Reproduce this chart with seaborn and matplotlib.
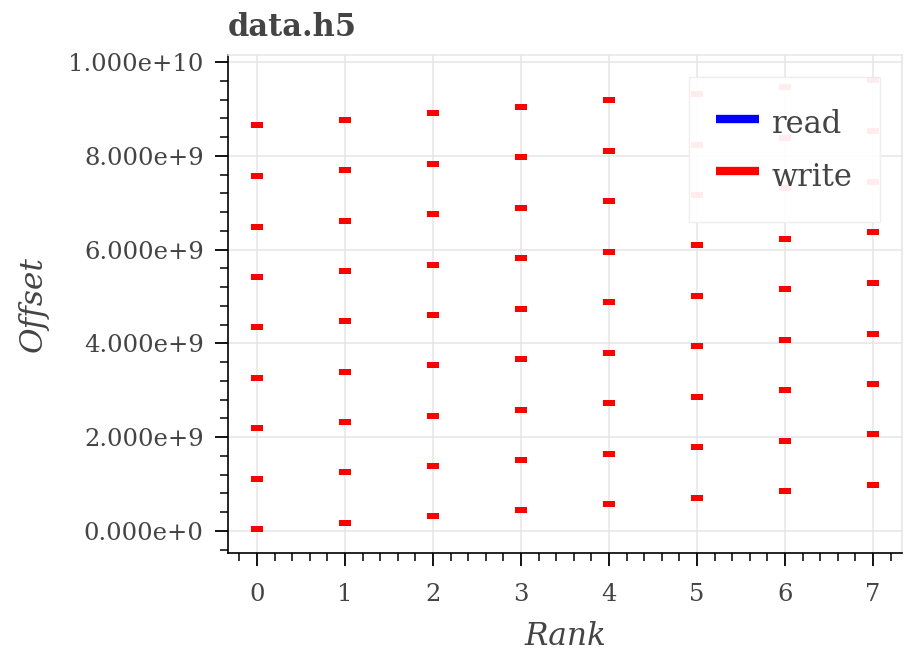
import numpy as np
import pandas as pd
import matplotlib
matplotlib.use('Agg')
import matplotlib.pyplot as plt
from matplotlib.path import Path
from matplotlib.lines import Line2D
from matplotlib.ticker import MultipleLocator, FuncFormatter
import seaborn as sns

# -------------------- data (offsets, in units of 1e9) --------------------
ranks = [0, 1, 2, 3, 4, 5, 6, 7]
rank0 = [0.04, 1.11, 2.19, 3.26, 4.34, 5.41, 6.49, 7.56, 8.65]
rank1 = [0.17, 1.25, 2.32, 3.40, 4.47, 5.55, 6.62, 7.70, 8.77]
rank2 = [0.31, 1.38, 2.46, 3.53, 4.61, 5.68, 6.76, 7.83, 8.91]
rank3 = [0.44, 1.52, 2.59, 3.67, 4.74, 5.82, 6.89, 7.97, 9.04]
rank4 = [0.57, 1.65, 2.73, 3.80, 4.88, 5.95, 7.03, 8.11, 9.19]
rank5 = [0.71, 1.78, 2.86, 3.94, 5.01, 6.09, 7.16, 8.24, 9.32]
rank6 = [0.85, 1.92, 3.00, 4.08, 5.15, 6.23, 7.31, 8.39, 9.47]
rank7 = [0.98, 2.06, 3.14, 4.21, 5.29, 6.37, 7.44, 8.52, 9.62]
offsets_by_rank = [rank0, rank1, rank2, rank3, rank4, rank5, rank6, rank7]
operations = ['read', 'write']
op_colors = {'read': '#0000ff', 'write': '#ff0000'}

rows = []
for op in operations:
    for r, offs in zip(ranks, offsets_by_rank):
        for v in offs:
            rows.append({'op': op, 'Rank': r, 'Offset': v * 1e9})
df = pd.DataFrame(rows)

# -------------------- style --------------------
sns.set_theme(style='white')
plt.rcParams['font.family'] = ['DejaVu Serif']
text_color = '#444444'
grid_color = '#e5e5e5'

fig = plt.figure(figsize=(9.09, 6.52), dpi=100)
ax = fig.add_axes([228 / 909, 1 - 553 / 652, (902 - 228) / 909, (553 - 55) / 652])

# short horizontal bar marker
bar_marker = Path([(-1, -0.47), (1, -0.47), (1, 0.47), (-1, 0.47), (-1, -0.47)],
                  [Path.MOVETO, Path.LINETO, Path.LINETO, Path.LINETO, Path.CLOSEPOLY])

# reads sit under the writes, only a thin fringe shows
sns.scatterplot(data=df[df['op'] == 'read'], x='Rank', y='Offset', color='#8a3cb0',
                marker=bar_marker, s=84, linewidth=0, alpha=0.7, legend=False, ax=ax, zorder=3)
sns.scatterplot(data=df[df['op'] == 'write'], x='Rank', y='Offset', color=op_colors['write'],
                marker=bar_marker, s=70, linewidth=0, legend=False, ax=ax, zorder=4)

ax.set_xlim(-0.33, 7.33)
ax.set_ylim(-0.47e9, 10.15e9)

ax.xaxis.set_major_locator(MultipleLocator(1))
ax.xaxis.set_minor_locator(MultipleLocator(0.2))
ax.yaxis.set_major_locator(MultipleLocator(2e9))
ax.yaxis.set_minor_locator(MultipleLocator(0.4e9))


def sci_fmt(v, pos):
    m, e = f"{v:.3e}".split('e')
    return f"{m}e{int(e):+d}"


ax.yaxis.set_major_formatter(FuncFormatter(sci_fmt))

ax.tick_params(which='major', direction='out', length=9.5, width=1.3, color='black',
               labelsize=17.5, labelcolor=text_color, bottom=True, left=True)
ax.tick_params(axis='x', which='major', pad=12)
ax.tick_params(axis='y', which='major', pad=8)
ax.tick_params(which='minor', direction='out', length=6, width=1.1, color='black',
               bottom=True, left=True)

ax.grid(True, which='major', color=grid_color, linewidth=1.1, zorder=0)
ax.set_axisbelow(True)

for side in ['left', 'bottom']:
    ax.spines[side].set_color('black')
    ax.spines[side].set_linewidth(1.2)
for side in ['top', 'right']:
    ax.spines[side].set_color(grid_color)
    ax.spines[side].set_linewidth(1.1)

ax.set_xlabel('Rank', fontsize=22.5, style='italic', color=text_color, labelpad=11)
ax.set_ylabel('Offset', fontsize=22.5, style='italic', color=text_color, labelpad=14)
ax.set_title('data.h5', loc='left', fontsize=22, fontweight='bold', color=text_color, pad=14)

handles = [Line2D([0], [0], color=op_colors[op], lw=6, solid_capstyle='butt') for op in operations]
leg = ax.legend(handles, operations, loc='upper right', bbox_to_anchor=(0.967, 0.956),
                borderaxespad=0, fontsize=22, frameon=True, fancybox=False,
                framealpha=0.93, edgecolor='#eeeeee', handlelength=1.4,
                handleheight=1.5, handletextpad=0.4, borderpad=0.9, labelspacing=0.5)
leg.get_frame().set_linewidth(1.0)
for t in leg.get_texts():
    t.set_color(text_color)
leg.set_zorder(10)

fig.savefig('out.png', dpi=100)
